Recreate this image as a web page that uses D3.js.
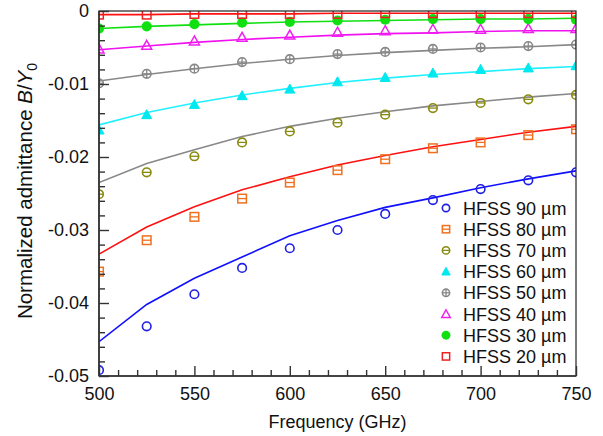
<!DOCTYPE html>
<html><head><meta charset="utf-8">
<script src="https://cdn.jsdelivr.net/npm/d3@7"></script>
<style>
html,body{margin:0;padding:0;background:#fff;}
svg{display:block;font-family:"Liberation Sans",Arial,sans-serif;}
</style></head>
<body><svg id="chart" width="603" height="436"></svg>
<script>
// ---- data ----
const freqs = [500,525,550,575,600,625,650,675,700,725,750];
const seriesLabels = ["HFSS 90 µm","HFSS 80 µm","HFSS 70 µm","HFSS 60 µm","HFSS 50 µm","HFSS 40 µm","HFSS 30 µm","HFSS 20 µm"];
// HFSS (markers)
const hfss90 = [-0.0492,-0.0432,-0.0388,-0.0352,-0.0325,-0.0300,-0.0278,-0.0259,-0.0244,-0.0232,-0.0221];
const hfss80 = [-0.0357,-0.0314,-0.0282,-0.0257,-0.0235,-0.0218,-0.0203,-0.0188,-0.0180,-0.0170,-0.0162];
const hfss70 = [-0.0251,-0.0221,-0.0199,-0.0180,-0.0165,-0.0153,-0.0142,-0.0133,-0.0126,-0.0121,-0.0115];
const hfss60 = [-0.0163,-0.0142,-0.0128,-0.0116,-0.0107,-0.0097,-0.0091,-0.0085,-0.0080,-0.0078,-0.0075];
const hfss50 = [-0.0099,-0.0086,-0.0079,-0.0070,-0.0066,-0.0059,-0.0056,-0.0052,-0.0050,-0.0048,-0.0046];
const hfss40 = [-0.0052,-0.0047,-0.0041,-0.0036,-0.0033,-0.0029,-0.0027,-0.0025,-0.0025,-0.0024,-0.0024];
const hfss30 = [-0.0024,-0.0021,-0.0018,-0.0016,-0.0015,-0.0013,-0.0012,-0.0011,-0.0011,-0.0011,-0.0012];
const hfss20 = [-0.0005,-0.0005,-0.0004,-0.0004,-0.0004,-0.0004,-0.0003,-0.0003,-0.0003,-0.0003,-0.0003];
// model (lines)
const line90 = [-0.0453,-0.0402,-0.0366,-0.0337,-0.0308,-0.0287,-0.0269,-0.0256,-0.0242,-0.0230,-0.0219];
const line80 = [-0.0333,-0.0296,-0.0268,-0.0245,-0.0227,-0.0211,-0.0198,-0.0186,-0.0176,-0.0166,-0.0158];
const line70 = [-0.0235,-0.0209,-0.0190,-0.0172,-0.0158,-0.0147,-0.0138,-0.0130,-0.0124,-0.0118,-0.0113];
const line60 = [-0.0156,-0.0139,-0.0126,-0.0115,-0.0106,-0.0098,-0.0092,-0.0087,-0.0083,-0.0079,-0.0076];
const line50 = [-0.0096,-0.0087,-0.0079,-0.0072,-0.0066,-0.0061,-0.0057,-0.0054,-0.0051,-0.0049,-0.0046];
const line40 = [-0.0053,-0.0048,-0.0043,-0.0039,-0.0036,-0.0033,-0.0031,-0.0030,-0.0028,-0.0027,-0.0027];
const line30 = [-0.0024,-0.0021,-0.0019,-0.0017,-0.0015,-0.0014,-0.0013,-0.0012,-0.0011,-0.0011,-0.0010];
const line20 = [-0.0005,-0.0005,-0.0004,-0.0004,-0.0004,-0.0003,-0.0003,-0.0003,-0.0003,-0.0003,-0.0003];
const xTickValues = [500,550,600,650,700,750];
const xTickLabels = ["500","550","600","650","700","750"];
const yTickValues = [0,-0.01,-0.02,-0.03,-0.04,-0.05];
const yTickLabels = ["0","-0.01","-0.02","-0.03","-0.04","-0.05"];

// ---- styles ----
const markerColors = ["#1f1fe6","#f07020","#8a8a10","#00e8f0","#888888","#f020f0","#10e010","#f02020"];
const lineColors   = ["#1010ff","#ff1010","#888888","#20f0ff","#888888","#f010f0","#10e010","#ff1010"];
const markerTypes  = ["circle","squareH","circleH","triFill","circlePlus","triOpen","circleFill","square"];
const hfss = [hfss90,hfss80,hfss70,hfss60,hfss50,hfss40,hfss30,hfss20];
const lines = [line90,line80,line70,line60,line50,line40,line30,line20];

const W=603,H=436;
const m={l:99,t:11,r:576,b:376};
const x=d3.scaleLinear().domain([500,750]).range([m.l,m.r]);
const y=d3.scaleLinear().domain([-0.05,0]).range([m.b,m.t]);
const svg=d3.select("#chart");

svg.append("defs").append("clipPath").attr("id","clip")
  .append("rect").attr("x",m.l).attr("y",m.t).attr("width",m.r-m.l).attr("height",m.b-m.t);

const plot=svg.append("g").attr("clip-path","url(#clip)");
const lg=d3.line().x((d,i)=>x(freqs[i])).y(d=>y(d));
lines.forEach((s,k)=>{
  plot.append("path").attr("d",lg(s)).attr("fill","none")
    .attr("stroke",lineColors[k]).attr("stroke-width",1.6);
});

function drawMarker(g,type,color,cx,cy,sc){
  sc=sc||1;
  const r=4.3*sc;
  if(type==="circle"||type==="circleH"||type==="circlePlus"){
    g.append("circle").attr("cx",cx).attr("cy",cy).attr("r",r).attr("fill","none").attr("stroke",color).attr("stroke-width",1.6);
    if(type!=="circle") g.append("line").attr("x1",cx-r).attr("x2",cx+r).attr("y1",cy).attr("y2",cy).attr("stroke",color).attr("stroke-width",1.3);
    if(type==="circlePlus") g.append("line").attr("x1",cx).attr("x2",cx).attr("y1",cy-r).attr("y2",cy+r).attr("stroke",color).attr("stroke-width",1.3);
  } else if(type==="circleFill"){
    g.append("circle").attr("cx",cx).attr("cy",cy).attr("r",r+0.8).attr("fill",color);
  } else if(type==="square"||type==="squareH"){
    g.append("rect").attr("x",cx-r).attr("y",cy-r).attr("width",2*r).attr("height",2*r).attr("fill","none").attr("stroke",color).attr("stroke-width",1.5);
    if(type==="squareH") g.append("line").attr("x1",cx-r).attr("x2",cx+r).attr("y1",cy).attr("y2",cy).attr("stroke",color).attr("stroke-width",1.3);
  } else if(type==="triFill"||type==="triOpen"){
    const s=5*sc;
    const p=[[cx,cy-s],[cx+s,cy+s*0.8],[cx-s,cy+s*0.8]].map(q=>q.join(",")).join(" ");
    g.append("polygon").attr("points",p)
      .attr("fill",type==="triFill"?color:"none").attr("stroke",color).attr("stroke-width",type==="triFill"?1:1.5);
  }
}
hfss.forEach((s,k)=>{
  s.forEach((v,i)=>drawMarker(plot,markerTypes[k],markerColors[k],x(freqs[i]),y(v)));
});

// frame
svg.append("rect").attr("x",m.l).attr("y",m.t).attr("width",m.r-m.l).attr("height",m.b-m.t)
  .attr("fill","none").attr("stroke","#222").attr("stroke-width",1.2);

// axes (ticks inside)
const xMinor=d3.range(500,751,10);
const xAxis=svg.append("g").attr("transform",`translate(0,${m.b})`);
xAxis.call(d3.axisBottom(x).tickValues(xMinor).tickSize(-6).tickFormat(""));
xAxis.selectAll(".tick").filter(d=>xTickValues.includes(d)).select("line").attr("y2",-10);
xAxis.select(".domain").remove();
xAxis.selectAll(".tick line").attr("stroke","#333").attr("stroke-width",1.4);
const xLab=svg.append("g").attr("transform",`translate(0,${m.b})`);
xLab.call(d3.axisBottom(x).tickValues(xTickValues).tickSize(0).tickPadding(0).tickFormat((d,i)=>xTickLabels[i]));
xLab.select(".domain").remove();
xLab.selectAll("text").attr("font-size",18).attr("fill","#111").attr("font-family","Liberation Sans, Arial, sans-serif").attr("dy",null).attr("y",24);

const yMinor=d3.range(0,26).map(i=>-i*0.002);
const yAxis=svg.append("g").attr("transform",`translate(${m.l},0)`);
yAxis.call(d3.axisLeft(y).tickValues(yMinor).tickSize(-6).tickFormat(""));
yAxis.selectAll(".tick").filter(d=>yTickValues.some(v=>Math.abs(v-d)<1e-9)).select("line").attr("x2",10);
yAxis.select(".domain").remove();
yAxis.selectAll(".tick line").attr("stroke","#333").attr("stroke-width",1.4);
const yLab=svg.append("g").attr("transform",`translate(${m.l},0)`);
yLab.call(d3.axisLeft(y).tickValues(yTickValues).tickSize(0).tickPadding(10).tickFormat((d,i)=>yTickLabels[i]));
yLab.select(".domain").remove();
yLab.selectAll("text").attr("font-size",18).attr("fill","#111").attr("font-family","Liberation Sans, Arial, sans-serif");

// axis lines (left & bottom, darker)
svg.append("line").attr("x1",m.l).attr("x2",m.l).attr("y1",m.t).attr("y2",m.b).attr("stroke","#333").attr("stroke-width",1.6);
svg.append("line").attr("x1",m.l).attr("x2",m.r).attr("y1",m.b).attr("y2",m.b).attr("stroke","#333").attr("stroke-width",1.6);

// titles
svg.append("text").attr("x",(m.l+m.r)/2).attr("y",428).attr("text-anchor","middle")
  .attr("font-size",18).attr("fill","#111").text("Frequency (GHz)");
const yt=svg.append("text").attr("transform","translate(32,191) rotate(-90)").attr("text-anchor","middle")
  .attr("font-size",20.5).attr("fill","#111");
yt.append("tspan").text("Normalized admittance ");
yt.append("tspan").attr("font-style","italic").text("B");
yt.append("tspan").text("/");
yt.append("tspan").attr("font-style","italic").text("Y");
yt.append("tspan").attr("font-size",14).attr("dy",5).text("0");

// legend
const leg=svg.append("g");
seriesLabels.forEach((lab,k)=>{
  const ly=208+k*21.2;
  drawMarker(leg,markerTypes[k],markerColors[k],446,ly,0.85);
  leg.append("text").attr("x",463).attr("y",ly+6.5).attr("font-size",18).attr("fill","#111").text(lab);
});
</script></body></html>
